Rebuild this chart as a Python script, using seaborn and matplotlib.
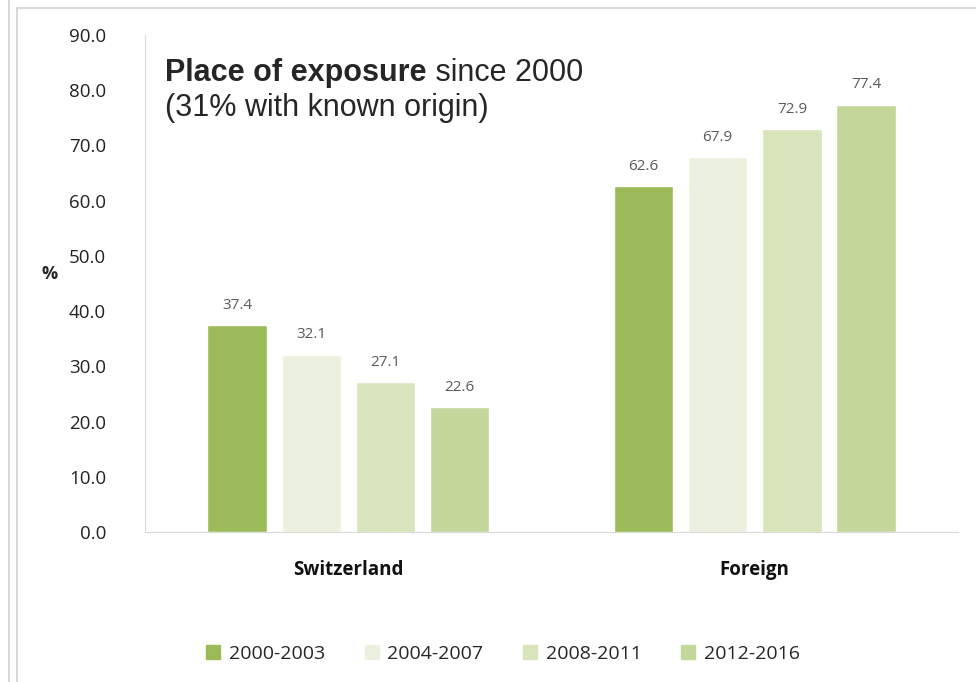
import numpy as np
import pandas as pd
import matplotlib
matplotlib.use("Agg")
import matplotlib.pyplot as plt
import seaborn as sns
from matplotlib.lines import Line2D

# ------------------------------------------------------------------
# Data
# ------------------------------------------------------------------
places = ["Switzerland", "Foreign"]
periods = ["2000-2003", "2004-2007", "2008-2011", "2012-2016"]
switzerland = [37.4, 32.1, 27.1, 22.6]
foreign = [62.6, 67.9, 72.9, 77.4]
y_ticks = [0, 10, 20, 30, 40, 50, 60, 70, 80, 90]

colors = ["#9BBB59", "#EBF1DE", "#D8E4BC", "#C4D79B"]

df = pd.DataFrame({
    "place": [places[0]] * 4 + [places[1]] * 4,
    "period": periods * 2,
    "pct": switzerland + foreign,
})

sns.set_style("white")
plt.rcParams["font.family"] = ["Open Sans", "DejaVu Sans"]

fig = plt.figure(figsize=(9.76, 6.82), dpi=100)
ax = fig.add_axes([0.1486, 0.22, 0.833, 0.7287])

sns.barplot(
    data=df, x="place", y="pct", hue="period", order=places,
    hue_order=periods, palette=colors, width=0.73, gap=0.2,
    saturation=1, ax=ax, legend=False,
)

for cont in ax.containers:
    ax.bar_label(cont, fmt="%.1f", padding=9, color="#595959",
                 fontsize=11, family="Open Sans")

ax.set_ylim(0, 90)
ax.set_xlim(-0.5, 1.5)
ax.set_yticks(y_ticks)
ax.set_yticklabels([f"{v:.1f}" for v in y_ticks], fontsize=13.5, color="#222222")
ax.set_xticks(range(len(places)))
ax.set_xticklabels(places, fontsize=13.5, fontweight="bold", color="#111111")
ax.tick_params(axis="x", length=0, pad=20)
ax.tick_params(axis="y", length=0, pad=28)
ax.set_xlabel("")
ax.set_ylabel("%", rotation=0, fontsize=13, fontweight="bold")
ax.yaxis.set_label_coords(-0.117, 0.5)

for side in ["top", "right"]:
    ax.spines[side].set_visible(False)
ax.spines["left"].set_color("#D9D9D9")
ax.spines["bottom"].set_color("#D9D9D9")

# title inside the plot area: bold part followed by regular part
t1 = ax.text(0.025, 0.908, "Place of exposure", transform=ax.transAxes,
             fontsize=22, fontweight="bold", family="Liberation Sans",
             va="baseline")
ax.annotate(" since 2000", xy=(1, 0), xycoords=t1, va="bottom",
            fontsize=22, family="Liberation Sans")
ax.text(0.025, 0.853, "(31% with known origin)", transform=ax.transAxes,
        fontsize=22, family="Liberation Sans", va="center")

# legend at the bottom
handles = [Line2D([], [], marker="s", linestyle="", markersize=10,
                  markerfacecolor=c, markeredgecolor=c) for c in colors]
fig.legend(handles, periods, loc="center", bbox_to_anchor=(0.515, 1 - 654 / 682),
           ncol=4, frameon=False, fontsize=14, handlelength=0.8,
           handletextpad=0.4, columnspacing=2.0)

# outer frame lines
fig.add_artist(Line2D([8.5 / 976, 8.5 / 976], [0, 1], color="#D9D9D9", lw=1.5))
fig.add_artist(Line2D([16.5 / 976, 16.5 / 976], [0, 1 - 8 / 682], color="#D9D9D9", lw=1.5))
fig.add_artist(Line2D([16.5 / 976, 1], [1 - 8 / 682, 1 - 8 / 682], color="#D9D9D9", lw=1.5))

fig.savefig("out.png", dpi=100)
